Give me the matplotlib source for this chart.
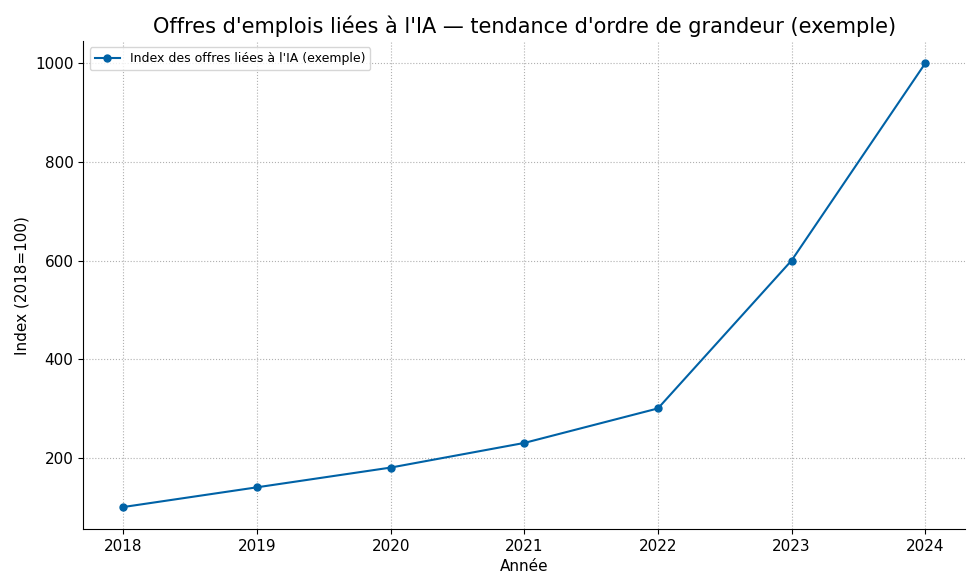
import matplotlib
matplotlib.use("Agg")
import matplotlib.pyplot as plt

years = [2018, 2019, 2020, 2021, 2022, 2023, 2024]
index_values = [100, 140, 180, 230, 300, 600, 1000]

fig, ax = plt.subplots(figsize=(9.8, 5.88), dpi=100)
ax.plot(years, index_values, marker="o", markersize=5, color="#0062a6",
        linewidth=1.5, label="Index des offres liées à l'IA (exemple)")

ax.set_title("Offres d'emplois liées à l'IA — tendance d'ordre de grandeur (exemple)", fontsize=15)
ax.set_xlabel("Année", fontsize=11)
ax.set_ylabel("Index (2018=100)", fontsize=11)
ax.tick_params(labelsize=11)
ax.set_yticks([200, 400, 600, 800, 1000])
ax.grid(True, linestyle=":", color="#b0b0b0", linewidth=0.8)
ax.spines["top"].set_visible(False)
ax.spines["right"].set_visible(False)
ax.legend(loc="upper left", fontsize=9)

fig.subplots_adjust(left=0.085, right=0.985, top=0.93, bottom=0.1)
fig.savefig("out.png", dpi=100)
